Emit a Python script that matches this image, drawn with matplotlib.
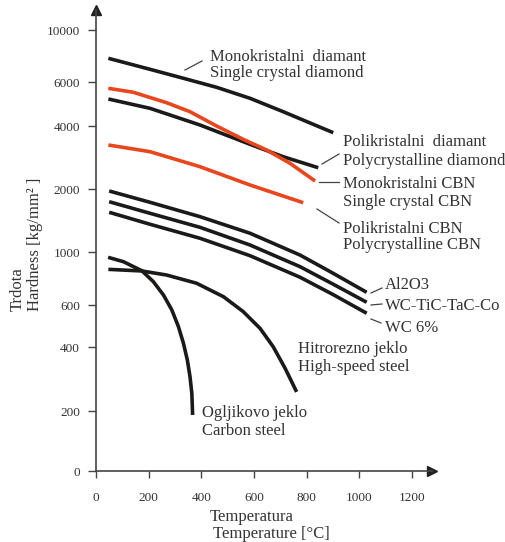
import numpy as np
import matplotlib
matplotlib.use("Agg")
import matplotlib.pyplot as plt
from matplotlib.ticker import NullLocator

# ---------------- data ----------------
sc_diamond_T = [47, 205, 332, 458, 585, 711, 901]
sc_diamond_H = [7573, 6797, 6223, 5714, 5163, 4563, 3716]

pc_diamond_T = [47, 205, 395, 585, 711, 844]
pc_diamond_H = [5130, 4708, 4037, 3270, 2853, 2528]

sc_cbn_T = [47, 142, 268, 357, 458, 559, 648, 737, 832]
sc_cbn_H = [5661, 5457, 4959, 4563, 4000, 3455, 3072, 2653, 2184]

pc_cbn_T = [47, 205, 395, 585, 787]
pc_cbn_H = [3245, 3016, 2556, 2090, 1720]

ceram_T = [50, 205, 395, 585, 775, 901, 1028]
al2o3_H = [1957, 1728, 1475, 1229, 971, 814, 678]
wctic_H = [1739, 1531, 1312, 1080, 868, 733, 616]
wc6_H = [1548, 1357, 1163, 965, 784, 663, 554]

hss_T = [47, 174, 268, 382, 484, 559, 623, 673, 718, 762]
hss_H = [846, 833, 801, 740, 650, 563, 479, 401, 318, 246]

carbon_T = [46, 104, 174, 218, 256, 288, 313, 332, 347, 357, 364, 367]
carbon_H = [950, 911, 835, 751, 661, 572, 487, 415, 347, 290, 242, 191]

y_tick_values = [100, 200, 400, 600, 1000, 2000, 4000, 6000, 10000]
y_tick_labels = ["0", "200", "400", "600", "1000", "2000", "4000", "6000", "10000"]
x_tick_values = [0, 200, 400, 600, 800, 1000, 1200]

# piecewise-log axis (as drawn in the original)
_knot_log = np.log10([10, 100, 200, 400, 600, 1000, 2000, 4000, 6000, 10000, 20000])
_knot_pos = np.array([-300, 0, 60, 124, 166, 219, 282, 345, 389, 441, 511], dtype=float)

def fwd(v):
    v = np.asarray(v, dtype=float)
    return np.interp(np.log10(np.clip(v, 1e-3, None)), _knot_log, _knot_pos)

def inv(p):
    p = np.asarray(p, dtype=float)
    return 10 ** np.interp(p, _knot_pos, _knot_log)

# ---------------- figure ----------------
W, H = 505, 542
fig = plt.figure(figsize=(W / 100, H / 100), dpi=100)
ax = fig.add_axes([96 / W, 71 / H, (432 - 96) / W, (471 - 10) / H])
ax.set_yscale("function", functions=(fwd, inv))
ax.set_xlim(0, (432 - 96) / 0.2633)
ax.set_ylim(100, inv(461))

serif = ["Liberation Serif", "DejaVu Serif"]
tc = "#333333"
black = "#1c1a18"
red = "#e8461c"
lw = 2.6

for T, Hh, c in [
    (sc_diamond_T, sc_diamond_H, black),
    (pc_diamond_T, pc_diamond_H, black),
    (sc_cbn_T, sc_cbn_H, red),
    (pc_cbn_T, pc_cbn_H, red),
    (ceram_T, al2o3_H, black),
    (ceram_T, wctic_H, black),
    (ceram_T, wc6_H, black),
    (hss_T, hss_H, black),
    (carbon_T, carbon_H, black),
]:
    ax.plot(T, Hh, color=c, lw=lw, solid_capstyle="butt", solid_joinstyle="round")

ax.set_yticks(y_tick_values)
ax.set_yticklabels(y_tick_labels)
ax.yaxis.set_minor_locator(NullLocator())
ax.set_xticks(x_tick_values)
for lab in ax.get_xticklabels() + ax.get_yticklabels():
    lab.set_fontfamily(serif)
    lab.set_fontsize(9.5)
    lab.set_color(tc)
ax.tick_params(axis="y", direction="out", length=6, width=1, color="#444444", pad=5.5)
ax.tick_params(axis="x", direction="out", length=5, width=1, color="#444444", pad=10)

for s in ["top", "right"]:
    ax.spines[s].set_visible(False)
for s in ["left", "bottom"]:
    ax.spines[s].set_color("#444444")
    ax.spines[s].set_linewidth(1.2)
ax.plot([0], [1], marker="^", color="#222222", ms=7, transform=ax.transAxes, clip_on=False)
ax.plot([1], [0], marker=">", color="#222222", ms=7, transform=ax.transAxes, clip_on=False)

def ftext(x, y, s, **kw):
    fig.text(x / W, 1 - y / H, s, fontfamily=serif, fontsize=12, color=tc,
             va="center", ha=kw.pop("ha", "left"), **kw)

def fline(x0, y0, x1, y1):
    fig.add_artist(plt.Line2D([x0 / W, x1 / W], [1 - y0 / H, 1 - y1 / H],
                              color="#444444", lw=0.9))

ftext(210, 57, "Monokristalni  diamant")
ftext(210, 73, "Single crystal diamond")
fline(185, 70, 202, 61)

ftext(343, 142, "Polikristalni  diamant")
ftext(343, 161, "Polycrystalline diamond")
fline(322, 164, 339, 154)

ftext(343, 184, "Monokristalni CBN")
ftext(343, 202, "Single crystal CBN")
fline(319, 182, 339, 182)

ftext(343, 229, "Polikristalni CBN")
ftext(343, 245, "Polycrystalline CBN")
fline(317, 209, 339, 223)

ftext(385, 285, "Al2O3")
fline(371, 293, 382, 288)
ftext(385, 306, "WC-TiC-TaC-Co")
fline(371, 305, 382, 304)
ftext(385, 328, "WC 6%")
fline(371, 319, 381, 323)

ftext(298, 349, "Hitrorezno jeklo")
ftext(298, 367, "High-speed steel")

ftext(202, 413, "Ogljikovo jeklo")
ftext(202, 431, "Carbon steel")

ftext(210, 517, "Temperatura")
ftext(213, 534, "Temperature [°C]")

fig.text(18 / W, 1 - 311 / H, "Trdota", fontfamily=serif, fontsize=12, color=tc,
         rotation=90, ha="center", va="bottom")
fig.text(35 / W, 1 - 311 / H, "Hardness [kg/mm² ]", fontfamily=serif, fontsize=12,
         color=tc, rotation=90, ha="center", va="bottom")

fig.savefig("out.png", dpi=100)
